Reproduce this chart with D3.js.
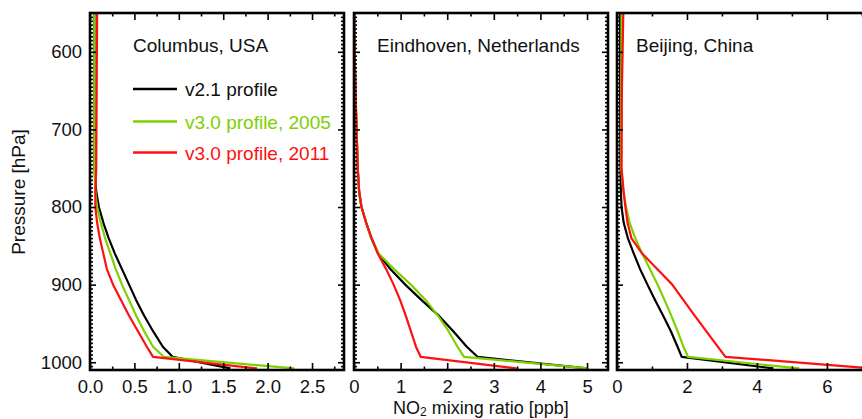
<!DOCTYPE html>
<html>
<head>
<meta charset="utf-8">
<script src="https://cdn.jsdelivr.net/npm/d3@7"></script>
<style>
  body { margin: 0; background: #fff; }
  svg { display: block; font-family: "Liberation Sans", Arial, Helvetica, sans-serif; }
  .axis text { font-size: 18.5px; fill: #111; }
  .axis line { stroke: #000; }
  .axis path { display: none; }
</style>
</head>
<body>
<svg id="chart" width="862" height="419"></svg>
<script>
// pressure levels (hPa) shared by every profile
const pressure = [550, 650, 750, 780, 800, 820, 840, 860, 880, 900, 920, 940, 960, 980, 993, 1008];

// NO2 mixing ratio [ppb]
const columbusV21  = [0.05, 0.05, 0.05, 0.07, 0.10, 0.15, 0.21, 0.28, 0.36, 0.44, 0.52, 0.61, 0.71, 0.82, 0.93, 1.58];
const columbus2005 = [0.05, 0.05, 0.05, 0.06, 0.08, 0.12, 0.17, 0.23, 0.29, 0.36, 0.44, 0.52, 0.61, 0.71, 0.83, 2.30];
const columbus2011 = [0.08, 0.075, 0.07, 0.06, 0.06, 0.08, 0.11, 0.15, 0.19, 0.26, 0.35, 0.44, 0.54, 0.64, 0.71, 1.88];

const eindhovenV21  = [0.00, 0.03, 0.08, 0.11, 0.16, 0.26, 0.37, 0.52, 0.78, 1.10, 1.45, 1.82, 2.13, 2.42, 2.65, 5.00];
const eindhoven2005 = [0.00, 0.03, 0.08, 0.11, 0.16, 0.26, 0.37, 0.53, 0.86, 1.22, 1.54, 1.80, 2.03, 2.22, 2.36, 5.02];
const eindhoven2011 = [0.00, 0.03, 0.08, 0.11, 0.16, 0.26, 0.38, 0.51, 0.69, 0.85, 0.99, 1.11, 1.22, 1.33, 1.43, 3.49];

const beijingV21  = [0.09, 0.09, 0.10, 0.11, 0.13, 0.19, 0.31, 0.48, 0.66, 0.87, 1.09, 1.32, 1.54, 1.73, 1.85, 4.47];
const beijing2005 = [0.13, 0.12, 0.12, 0.18, 0.26, 0.36, 0.52, 0.72, 0.94, 1.16, 1.36, 1.55, 1.73, 1.90, 2.03, 5.21];
const beijing2011 = [0.18, 0.14, 0.13, 0.19, 0.24, 0.30, 0.41, 0.72, 1.15, 1.58, 1.90, 2.22, 2.55, 2.88, 3.10, 7.30];

const sites = ["Columbus, USA", "Eindhoven, Netherlands", "Beijing, China"];
const seriesNames = ["v2.1 profile", "v3.0 profile, 2005", "v3.0 profile, 2011"];
const seriesColors = ["#000000", "#7ed000", "#ff1010"];

const xMax = [2.86, 5.45, 7.26];
const xMajor = [[0, 0.5, 1, 1.5, 2, 2.5], [0, 1, 2, 3, 4, 5], [0, 2, 4, 6]];
const xMinor = [[0.25, 0.75, 1.25, 1.75, 2.25, 2.75], [0.5, 1.5, 2.5, 3.5, 4.5], [1, 3, 5, 7]];
const xFormat = [d3.format(".1f"), d3.format("d"), d3.format("d")];
const yMajor = [600, 700, 800, 900, 1000];
const yMinor = d3.range(555, 1010, 5).filter(p => p % 100 !== 0);

const profiles = [
    [columbusV21, columbus2005, columbus2011],
    [eindhovenV21, eindhoven2005, eindhoven2011],
    [beijingV21, beijing2005, beijing2011]
];

// layout
const panelLeft = [90, 354, 617];
const panelW = 254;
const plotTop = 13, plotBottom = 370;
const titlePos = [[133, 52], [377, 52], [636, 52]];

const svg = d3.select("#chart");
const y = d3.scaleLinear().domain([550, 1010]).range([plotTop, plotBottom]);

const line = (x) => d3.line()
    .x(d => x(d[0]))
    .y(d => y(d[1]));

sites.forEach((site, i) => {
    const x0 = panelLeft[i];
    const x = d3.scaleLinear().domain([0, xMax[i]]).range([x0, x0 + panelW]);

    svg.append("clipPath").attr("id", "clip" + i)
      .append("rect")
        .attr("x", x0).attr("y", plotTop)
        .attr("width", panelW).attr("height", plotBottom - plotTop);

    // profiles
    const g = svg.append("g").attr("clip-path", `url(#clip${i})`);
    profiles[i].forEach((vals, k) => {
        const pts = vals.map((v, j) => [v, pressure[j]]);
        g.append("path")
            .datum(pts)
            .attr("fill", "none")
            .attr("stroke", seriesColors[k])
            .attr("stroke-width", 2.2)
            .attr("stroke-linejoin", "round")
            .attr("d", line(x));
    });

    // axes, ticks pointing inward
    svg.append("g").attr("class", "axis")
        .attr("transform", `translate(0,${plotBottom})`)
        .call(d3.axisBottom(x).tickValues(xMajor[i]).tickSize(-7).tickPadding(10).tickFormat(xFormat[i]));
    svg.append("g").attr("class", "axis")
        .attr("transform", `translate(0,${plotBottom})`)
        .call(d3.axisBottom(x).tickValues(xMinor[i]).tickSize(-3.5).tickFormat(""));
    svg.append("g").attr("class", "axis")
        .attr("transform", `translate(0,${plotTop})`)
        .call(d3.axisTop(x).tickValues(xMajor[i]).tickSize(-7).tickFormat(""));
    svg.append("g").attr("class", "axis")
        .attr("transform", `translate(0,${plotTop})`)
        .call(d3.axisTop(x).tickValues(xMinor[i]).tickSize(-3.5).tickFormat(""));

    svg.append("g").attr("class", "axis")
        .attr("transform", `translate(${x0},0)`)
        .call(d3.axisLeft(y).tickValues(yMajor).tickSize(-6).tickPadding(8)
            .tickFormat(i === 0 ? d3.format("d") : ""));
    svg.append("g").attr("class", "axis")
        .attr("transform", `translate(${x0},0)`)
        .call(d3.axisLeft(y).tickValues(yMinor).tickSize(-3).tickFormat(""));
    svg.append("g").attr("class", "axis")
        .attr("transform", `translate(${x0 + panelW},0)`)
        .call(d3.axisRight(y).tickValues(yMajor).tickSize(-6).tickFormat(""));
    svg.append("g").attr("class", "axis")
        .attr("transform", `translate(${x0 + panelW},0)`)
        .call(d3.axisRight(y).tickValues(yMinor).tickSize(-3).tickFormat(""));

    svg.selectAll(".axis line").attr("stroke-width", 1.6);

    // frame
    svg.append("rect")
        .attr("x", x0).attr("y", plotTop)
        .attr("width", panelW).attr("height", plotBottom - plotTop)
        .attr("fill", "none")
        .attr("stroke", "#000")
        .attr("stroke-width", 2.6);

    svg.append("text")
        .attr("x", titlePos[i][0]).attr("y", titlePos[i][1])
        .attr("font-size", 19).attr("fill", "#111")
        .text(site);
});

// legend in first panel
const legY = [89, 121.5, 152.5];
seriesNames.forEach((name, k) => {
    svg.append("line")
        .attr("x1", 133).attr("x2", 177)
        .attr("y1", legY[k]).attr("y2", legY[k])
        .attr("stroke", seriesColors[k]).attr("stroke-width", 2.4);
    svg.append("text")
        .attr("x", 185).attr("y", legY[k] + 7)
        .attr("font-size", 19).attr("fill", k === 0 ? "#111" : seriesColors[k])
        .text(name);
});

// axis titles
svg.append("text")
    .attr("transform", "translate(25,192) rotate(-90)")
    .attr("text-anchor", "middle")
    .attr("font-size", 19).attr("fill", "#111")
    .text("Pressure [hPa]");

const xt = svg.append("text")
    .attr("x", 481).attr("y", 414)
    .attr("text-anchor", "middle")
    .attr("font-size", 18).attr("fill", "#111");
xt.append("tspan").text("NO");
xt.append("tspan").attr("font-size", 12).attr("dy", 2).text("2");
xt.append("tspan").attr("dy", -2).text(" mixing ratio [ppb]");
</script>
</body>
</html>
